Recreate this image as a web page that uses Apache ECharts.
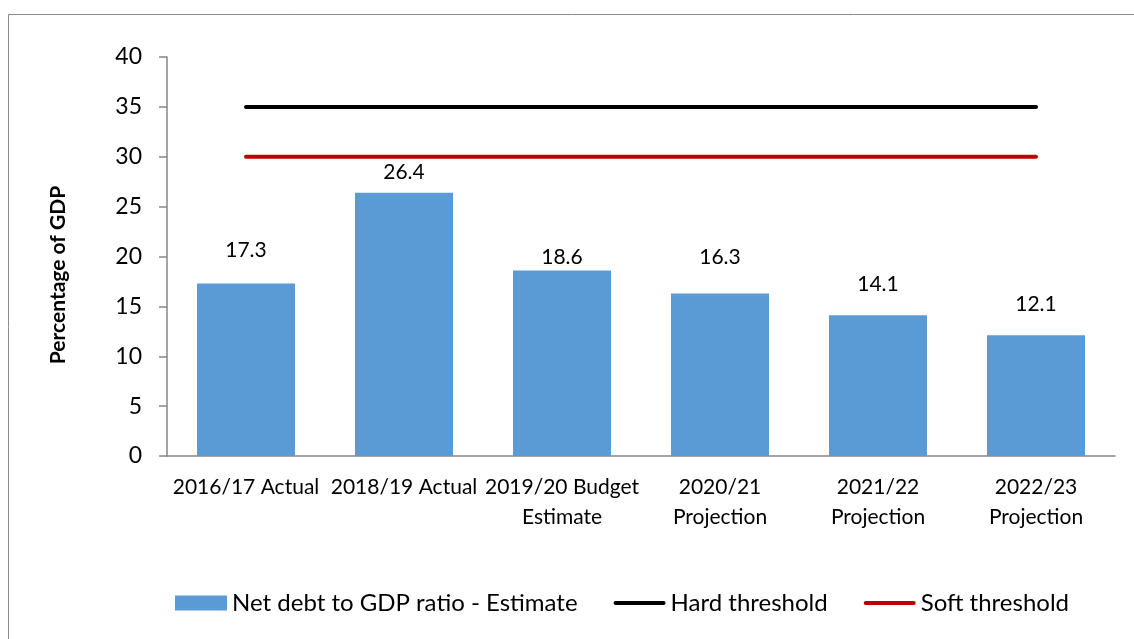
<!DOCTYPE html>
<html>
<head>
<meta charset="utf-8">
<script src="https://cdn.jsdelivr.net/npm/echarts@6/dist/echarts.min.js"></script>
<style>
html,body{margin:0;padding:0;background:#fff;}
#chart{width:1134px;height:639px;}
</style>
</head>
<body>
<div id="chart"></div>
<script>
var categories = ['2016/17 Actual', '2018/19 Actual', '2019/20 Budget\nEstimate', '2020/21\nProjection', '2021/22\nProjection', '2022/23\nProjection'];
var netDebt = [17.3, 26.4, 18.6, 16.3, 14.1, 12.1];
var hardThreshold = [35, 35, 35, 35, 35, 35];
var softThreshold = [30, 30, 30, 30, 30, 30];
var yTicks = [0, 5, 10, 15, 20, 25, 30, 35, 40];

// label lift above bar top (px), as placed in the original
var labelLift = [33, 20, 13, 36, 31, 31];

var FONT = 'Lato';
var LINE_ICON = 'path://M2,0L50,0A2,2,0,0,1,50,4L2,4A2,2,0,0,1,2,0Z';
var chart = echarts.init(document.getElementById('chart'));
var barData = netDebt.map(function (v, i) {
  return { value: v, label: { offset: [0, -(labelLift[i] - 12)] } };
});
chart.setOption({
  animation: false,
  textStyle: { fontFamily: FONT, color: '#000' },
  grid: { left: 167, right: 19, top: 57, bottom: 183 },
  graphic: [
    { type: 'rect', shape: { x: 8.5, y: 14.5, width: 1200, height: 800 },
      style: { fill: 'none', stroke: '#8c8c8c', lineWidth: 1 }, silent: true, z: -1 },
    { type: 'text', x: 58, y: 275, rotation: Math.PI / 2,
      style: { text: 'Percentage of GDP', font: 'bold 21px Lato', fill: '#000',
        textAlign: 'center', textVerticalAlign: 'middle' } }
  ],
  legend: {
    left: 175, top: 591, padding: 0, itemWidth: 52, itemHeight: 15, itemGap: 36,
    textStyle: { fontFamily: FONT, fontSize: 24, color: '#000' },
    data: [
      { name: 'Net debt to GDP ratio - Estimate', icon: 'rect' },
      { name: 'Hard threshold', icon: LINE_ICON },
      { name: 'Soft threshold', icon: LINE_ICON }
    ]
  },
  xAxis: {
    type: 'category', data: categories,
    axisLine: { lineStyle: { color: '#868686', width: 1.5 } },
    axisTick: { show: false },
    axisLabel: { fontFamily: FONT, fontSize: 21, color: '#000', lineHeight: 30, margin: 16, interval: 0 }
  },
  yAxis: {
    type: 'value', min: yTicks[0], max: yTicks[yTicks.length - 1], interval: 5,
    splitLine: { show: false },
    axisLine: { show: true, lineStyle: { color: '#868686', width: 1.5 } },
    axisTick: { show: true, length: 8, lineStyle: { color: '#868686', width: 1.5 } },
    axisLabel: { fontFamily: FONT, fontSize: 23, color: '#000', margin: 25 }
  },
  series: [
    { name: 'Net debt to GDP ratio - Estimate', type: 'bar', data: barData, barWidth: 98,
      itemStyle: { color: '#5b9bd5' },
      label: { show: true, position: 'top', distance: 0, fontFamily: FONT, fontSize: 21,
        lineHeight: 24, color: '#000', formatter: function (p) { return p.value.toFixed(1); } } },
    { name: 'Hard threshold', type: 'line', data: hardThreshold, symbol: 'none',
      lineStyle: { color: '#000000', width: 4, cap: 'round' }, itemStyle: { color: '#000000' } },
    { name: 'Soft threshold', type: 'line', data: softThreshold, symbol: 'none',
      lineStyle: { color: '#c00000', width: 4, cap: 'round' }, itemStyle: { color: '#c00000' } }
  ]
});
</script>
</body>
</html>
